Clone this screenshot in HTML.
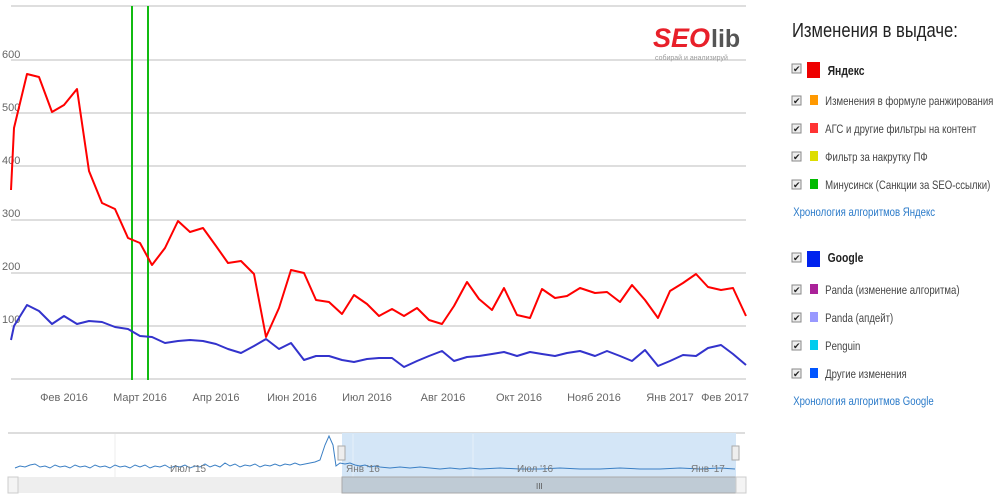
<!DOCTYPE html>
<html><head><meta charset="utf-8"><style>
body{margin:0;background:#fff;width:1000px;height:503px;overflow:hidden;font-family:"Liberation Sans",sans-serif}
</style></head><body>
<svg width="1000" height="503" style="position:absolute;left:0;top:0" font-family="Liberation Sans, sans-serif">
<g stroke="#d4d4d4" stroke-width="1.5">
<line x1="11" y1="6" x2="746" y2="6"/>
<line x1="11" y1="60" x2="746" y2="60"/>
<line x1="11" y1="113" x2="746" y2="113"/>
<line x1="11" y1="166" x2="746" y2="166"/>
<line x1="11" y1="220" x2="746" y2="220"/>
<line x1="11" y1="273" x2="746" y2="273"/>
<line x1="11" y1="326" x2="746" y2="326"/>
<line x1="11" y1="379" x2="746" y2="379"/>
</g>
<g font-size="11" fill="#666">
<text x="2" y="58">600</text><text x="2" y="111">500</text><text x="2" y="164">400</text>
<text x="2" y="217">300</text><text x="2" y="270">200</text><text x="2" y="323">100</text>
</g>
<g font-size="11" fill="#666" text-anchor="middle">
<text x="64" y="401">Фев 2016</text><text x="140" y="401">Март 2016</text><text x="216" y="401">Апр 2016</text>
<text x="292" y="401">Июн 2016</text><text x="367" y="401">Июл 2016</text><text x="443" y="401">Авг 2016</text>
<text x="519" y="401">Окт 2016</text><text x="594" y="401">Нояб 2016</text><text x="670" y="401">Янв 2017</text>
<text x="725" y="401">Фев 2017</text>
</g>
<line x1="132" y1="6" x2="132" y2="380" stroke="#11bb11" stroke-width="2"/>
<line x1="148" y1="6" x2="148" y2="380" stroke="#11bb11" stroke-width="2"/>
<polyline fill="none" stroke="#ff0000" stroke-width="2" stroke-linejoin="round" points="11,190 14,128 27,74 39,77 52,112 64,105 77,89 89,171 102,203 115,209 128,238 140,243 152,265 165,248 178,221 190,232 203,228 216,246 228,263 241,261 254,274 266,337 279,308 291,270 304,273 316,300 329,302 342,314 354,295 367,304 379,316 392,309 404,316 417,308 429,320 442,324 454,306 467,282 479,299 492,310 504,288 517,315 530,318 542,289 555,298 567,296 580,288 595,293 607,292 620,302 632,285 645,300 658,318 670,291 683,283 696,274 708,287 721,290 733,288 746,316"/>
<polyline fill="none" stroke="#3333cc" stroke-width="2" stroke-linejoin="round" points="11,340 14,326 27,305 39,311 52,324 64,316 77,324 89,321 102,322 115,327 128,329 140,336 152,337 165,343 178,341 190,340 203,341 216,344 228,349 241,353 254,346 266,339 279,349 291,343 304,360 316,356 329,356 342,360 354,362 367,359 379,358 392,358 404,367 417,361 429,356 442,351 454,361 467,357 479,356 492,354 504,352 517,356 530,352 542,354 555,356 567,353 580,351 595,356 607,351 620,356 632,361 645,350 658,366 670,361 683,355 696,356 708,348 721,345 733,354 746,365"/>
<text x="653" y="47" font-size="27" font-weight="bold" fill="#e8202a" font-style="italic">SEO</text>
<text x="711" y="47" font-size="25" font-weight="bold" fill="#555">lib</text>
<text x="655" y="60" font-size="7" fill="#999">собирай и анализируй</text>
<line x1="8" y1="433" x2="745" y2="433" stroke="#bbb"/>
<rect x="342" y="433" width="394" height="44" fill="#d4e6f7"/>
<line x1="115" y1="434" x2="115" y2="477" stroke="#eee"/>
<line x1="353" y1="434" x2="353" y2="477" stroke="#e6f0fa"/>
<line x1="473" y1="434" x2="473" y2="477" stroke="#e6f0fa"/>
<polyline fill="none" stroke="#3a7fc4" stroke-width="1" points="15,468 20,466 25,467 30,465 35,464 40,467 45,466 50,468 55,465 60,467 65,466 70,468 75,465 80,467 85,466 90,468 95,465 100,467 105,466 110,468 115,465 120,467 125,466 130,468 135,465 140,467 145,465 150,468 155,466 160,467 165,465 170,468 175,466 180,467 185,465 190,468 195,466 200,467 205,464 210,467 215,465 220,467 225,463 230,466 235,464 240,467 245,465 250,466 255,464 260,467 265,465 270,466 275,464 280,466 285,464 290,465 295,463 300,465 305,464 310,463 315,462 320,460 325,445 329,436 333,445 336,466 340,463 345,464 350,463 355,465 360,466 365,465 370,467 375,466 380,467 390,468 400,467 410,468 420,467 430,468 440,469 450,468 460,469 470,468 480,469 500,468 520,469 540,469 560,468 580,469 600,469 620,468 640,469 660,469 680,468 700,469 720,468 735,469"/>
<g font-size="10" fill="#777"><text x="170" y="472">Июл '15</text><text x="346" y="472">Янв '16</text><text x="517" y="472">Июл '16</text><text x="691" y="472">Янв '17</text></g>
<rect x="338" y="446" width="7" height="14" fill="#eee" stroke="#aaa"/>
<rect x="732" y="446" width="7" height="14" fill="#eee" stroke="#aaa"/>
<rect x="8" y="477" width="737" height="16" fill="#eee"/>
<rect x="342" y="477" width="394" height="16" fill="#bfcbd5" stroke="#aaa"/>
<text x="536" y="489" font-size="8" fill="#555">III</text>
<rect x="8" y="477" width="10" height="16" fill="#f4f4f4" stroke="#ccc"/>
<rect x="736" y="477" width="10" height="16" fill="#f4f4f4" stroke="#ccc"/>
</svg>
<div style="position:absolute;left:792px;top:20px;font-size:20px;color:#222;transform:scaleX(0.83);transform-origin:left;white-space:nowrap">Изменения в выдаче:</div>
<svg width="210" height="420" style="position:absolute;left:790px;top:0" font-family="Liberation Sans, sans-serif">
<g fill="#eee" stroke="#888">
<rect x="2" y="64" width="9" height="9"/><rect x="2" y="96" width="9" height="9"/><rect x="2" y="124" width="9" height="9"/><rect x="2" y="152" width="9" height="9"/><rect x="2" y="180" width="9" height="9"/>
<rect x="2" y="253" width="9" height="9"/><rect x="2" y="285" width="9" height="9"/><rect x="2" y="313" width="9" height="9"/><rect x="2" y="341" width="9" height="9"/><rect x="2" y="369" width="9" height="9"/>
</g>
<g font-size="9" fill="#222"><text x="3" y="72">✔</text><text x="3" y="104">✔</text><text x="3" y="132">✔</text><text x="3" y="160">✔</text><text x="3" y="188">✔</text><text x="3" y="261">✔</text><text x="3" y="293">✔</text><text x="3" y="321">✔</text><text x="3" y="349">✔</text><text x="3" y="377">✔</text></g>
<rect x="17" y="62" width="13" height="16" fill="#ee0000"/>
<rect x="20" y="95" width="8" height="10" fill="#ff9900"/>
<rect x="20" y="123" width="8" height="10" fill="#ff3333"/>
<rect x="20" y="151" width="8" height="10" fill="#dddd00"/>
<rect x="20" y="179" width="8" height="10" fill="#00bb00"/>
<rect x="17" y="251" width="13" height="16" fill="#0022ee"/>
<rect x="20" y="284" width="8" height="10" fill="#aa2299"/>
<rect x="20" y="312" width="8" height="10" fill="#9999ff"/>
<rect x="20" y="340" width="8" height="10" fill="#00ccee"/>
<rect x="20" y="368" width="8" height="10" fill="#0055ff"/>
<g transform="scale(0.8,1)">
<text x="47" y="75" font-size="13" font-weight="bold" fill="#222">Яндекс</text>
<text x="44" y="105" font-size="12" fill="#444">Изменения в формуле ранжирования</text>
<text x="44" y="133" font-size="12" fill="#444">АГС и другие фильтры на контент</text>
<text x="44" y="161" font-size="12" fill="#444">Фильтр за накрутку ПФ</text>
<text x="44" y="189" font-size="12" fill="#444">Минусинск (Санкции за SEO-ссылки)</text>
<text x="4" y="216" font-size="12" fill="#2a7ac9">Хронология алгоритмов Яндекс</text>
<text x="47" y="262" font-size="13" font-weight="bold" fill="#222">Google</text>
<text x="44" y="294" font-size="12" fill="#444">Panda (изменение алгоритма)</text>
<text x="44" y="322" font-size="12" fill="#444">Panda (апдейт)</text>
<text x="44" y="350" font-size="12" fill="#444">Penguin</text>
<text x="44" y="378" font-size="12" fill="#444">Другие изменения</text>
<text x="4" y="405" font-size="12" fill="#2a7ac9">Хронология алгоритмов Google</text>
</g>
</svg>
</body></html>
